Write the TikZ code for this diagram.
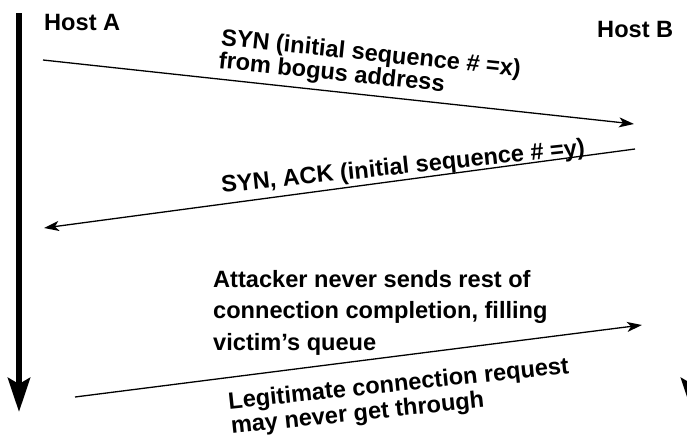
\documentclass[tikz,border=0pt]{standalone}
\usepackage{fontspec}
\setmainfont{Liberation Sans}
\usetikzlibrary{arrows.meta}
\begin{document}
\begin{tikzpicture}[x=1pt,y=-1pt,
  lbl/.style={font=\bfseries\fontsize{23.6}{#1}\selectfont, inner sep=0pt, align=left, anchor=base west},
  lbl/.default=24,
  msg/.style={line width=1.3pt, -{Stealth[length=15pt,width=10pt,inset=4pt]}},
  timeline/.style={line width=6pt, -{Stealth[length=34pt,width=22pt,inset=6pt]}}]
\useasboundingbox (0,0) rectangle (687,439);
\clip (0,0) rectangle (687,439);

% time axes of the two hosts
\coordinate (aTop) at (19,13);
\coordinate (aEnd) at (19,412);
\coordinate (bTop) at (692,20);
\coordinate (bEnd) at (692,412);
\draw[timeline] (aTop) -- (aEnd);
\draw[timeline] (bTop) -- (bEnd);

% multi-line labels are placed by the baseline of their last line
\node[lbl] (hostA) at (44,30) {Host A};
\node[lbl] (hostB) at (597,37) {Host B};

% spoofed SYN
\coordinate (synS) at (43,60);
\coordinate (synE) at (634,124);
\draw[msg] (synS) -- (synE);
\node[lbl=19, rotate=-6] (synL) at (218,68) {SYN (initial sequence \# =x)\\from bogus address};

% SYN-ACK reply
\coordinate (ackS) at (635,149);
\coordinate (ackE) at (44,228);
\draw[msg] (ackS) -- (ackE);
\node[lbl, rotate=6] (ackL) at (222,193) {SYN, ACK (initial sequence \# =y)};

% note about the half-open connection
\node[lbl=31.5] (note) at (213,350) {Attacker never sends rest of\\connection completion, filling\\victim’s queue};

% legitimate request
\coordinate (legS) at (75,397);
\coordinate (legE) at (642,325);
\draw[msg] (legS) -- (legE);
\node[lbl=25, rotate=6] (legL) at (231.6,434) {Legitimate connection request\\may never get through};
\end{tikzpicture}
\end{document}
